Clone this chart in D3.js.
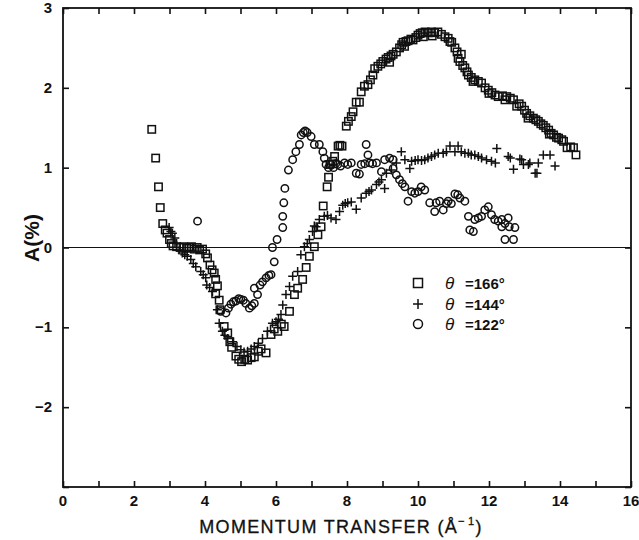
<!DOCTYPE html>
<html lang="en">
  <head>
    <meta charset="UTF-8" />
    <title>Asymmetry vs momentum transfer</title>
    <script src="https://d3js.org/d3.v7.min.js"></script>
    <style>
      body { margin: 0; background: #fff; }
      text { font-family: "Liberation Sans", Arial, sans-serif; fill: #111; }
    </style>
  </head>
  <body>
    <svg id="chart" width="639" height="540"></svg>
    <script>
      // theta = 166 deg (squares)
      const sq166 = [
        [2.50,1.48],[2.61,1.12],[2.69,0.76],[2.74,0.50],[2.81,0.30],[2.88,0.22],[2.93,0.18],[3.00,0.10],
        [3.05,0.05],[3.10,0.02],[3.20,0.01],[3.30,0.00],[3.40,0.01],[3.48,-0.01],[3.55,0.00],[3.62,0.01],
        [3.70,-0.02],[3.78,0.00],[3.85,-0.03],[3.93,-0.02],[4.02,-0.08],[4.07,-0.13],[4.14,-0.22],[4.20,-0.28],
        [4.26,-0.32],[4.30,-0.40],[4.35,-0.48],[4.30,-0.58],[4.40,-0.66],[4.42,-0.78],[4.54,-0.99],[4.64,-1.07],
        [4.70,-1.18],[4.75,-1.25],[4.87,-1.36],[4.95,-1.40],[5.03,-1.43],[5.12,-1.40],[5.20,-1.41],[5.30,-1.38],
        [5.39,-1.37],[5.50,-1.30],[5.58,-1.27],[5.72,-1.32],[5.86,-1.09],[5.95,-1.02],[6.05,-1.05],[6.15,-0.96],
        [6.23,-0.99],[6.38,-0.80],[6.52,-0.59],[6.61,-0.51],[6.75,-0.40],[6.85,-0.25],[6.94,-0.11],[7.08,0.01],
        [7.18,0.16],[7.27,0.26],[7.33,0.52],[7.44,0.76],[7.48,0.88],[7.52,1.04],[7.60,1.08],[7.65,1.14],
        [7.75,1.27],[7.80,1.28],[7.86,1.27],[7.98,1.52],[8.04,1.58],[8.12,1.64],[8.17,1.70],[8.26,1.82],
        [8.35,1.82],[8.40,1.95],[8.49,2.02],[8.59,2.04],[8.66,2.10],[8.73,2.16],[8.78,2.24],[8.87,2.27],
        [8.95,2.30],[9.01,2.33],[9.10,2.36],[9.16,2.38],[9.24,2.40],[9.30,2.42],[9.39,2.45],[9.48,2.50],
        [9.54,2.54],[9.58,2.57],[9.66,2.58],[9.72,2.59],[9.80,2.61],[9.86,2.60],[9.94,2.63],[10.00,2.66],
        [10.06,2.68],[10.12,2.69],[10.20,2.70],[10.29,2.69],[10.38,2.70],[10.47,2.69],[10.56,2.70],[10.66,2.67],
        [10.76,2.64],[10.85,2.62],[10.95,2.57],[11.04,2.50],[11.10,2.45],[11.13,2.37],[11.22,2.42],[11.18,2.33],
        [11.26,2.28],[11.32,2.25],[11.38,2.20],[11.42,2.16],[11.50,2.13],[11.60,2.10],[11.70,2.08],[11.79,2.06],
        [11.89,2.00],[11.98,1.97],[12.08,1.94],[12.17,1.91],[12.26,1.89],[12.38,1.90],[12.50,1.89],[12.60,1.87],
        [12.69,1.85],[12.78,1.77],[12.85,1.80],[12.92,1.77],[13.00,1.72],[13.06,1.68],[13.15,1.65],[13.25,1.62],
        [13.32,1.60],[13.39,1.58],[13.46,1.55],[13.53,1.53],[13.60,1.50],[13.68,1.47],[13.75,1.43],[13.82,1.41],
        [13.90,1.38],[13.96,1.37],[14.05,1.35],[14.10,1.33],[14.20,1.25],[14.30,1.26],[14.38,1.25],[14.45,1.16],
        [9.20,2.32],[9.62,2.52],[10.15,2.64],[10.40,2.65],[10.90,2.58],[11.55,2.08],[12.00,1.93],[12.45,1.85],
        [13.10,1.62],[13.70,1.42]
      ];

      // theta = 144 deg (plus signs)
      const pl144 = [
        [2.99,0.25],[3.04,0.20],[3.08,0.18],[3.15,0.12],[3.20,0.05],[3.27,-0.03],[3.36,-0.07],[3.43,-0.09],
        [3.50,-0.11],[3.60,-0.15],[3.67,-0.20],[3.74,-0.24],[3.88,-0.30],[3.95,-0.34],[4.02,-0.38],[4.05,-0.47],
        [4.13,-0.50],[4.21,-0.55],[4.35,-0.78],[4.40,-0.95],[4.49,-1.05],[4.56,-1.10],[4.64,-1.14],[4.78,-1.18],
        [4.90,-1.24],[5.01,-1.28],[5.10,-1.31],[5.20,-1.30],[5.30,-1.27],[5.39,-1.24],[5.50,-1.20],[5.62,-1.14],
        [5.76,-1.05],[5.90,-0.95],[6.00,-0.93],[6.07,-0.90],[6.14,-0.84],[6.19,-0.72],[6.28,-0.59],[6.38,-0.49],
        [6.47,-0.36],[6.61,-0.30],[6.70,-0.09],[6.80,0.01],[6.88,0.05],[6.94,0.10],[7.03,0.20],[7.08,0.27],
        [7.13,0.26],[7.22,0.35],[7.36,0.39],[7.45,0.40],[7.55,0.37],[7.69,0.35],[7.79,0.45],[7.88,0.53],
        [7.95,0.55],[8.02,0.56],[8.12,0.57],[8.26,0.48],[8.40,0.62],[8.54,0.68],[8.62,0.70],[8.69,0.72],
        [8.83,0.79],[8.90,0.82],[8.97,0.85],[9.06,0.74],[9.11,0.93],[9.25,0.97],[9.39,1.06],[9.53,1.20],
        [9.63,1.10],[9.77,0.99],[9.82,1.08],[9.92,1.09],[10.00,1.10],[10.10,1.09],[10.19,1.10],[10.28,1.12],
        [10.38,1.14],[10.47,1.16],[10.57,1.18],[10.71,1.18],[10.80,1.20],[10.90,1.27],[11.04,1.20],[11.13,1.27],
        [11.22,1.20],[11.32,1.18],[11.42,1.18],[11.50,1.16],[11.60,1.16],[11.70,1.14],[11.79,1.12],[11.93,1.10],
        [12.07,1.08],[12.18,1.06],[12.22,1.24],[12.54,1.14],[12.60,1.12],[12.69,0.98],[12.87,1.11],[12.92,1.10],
        [12.97,1.04],[13.11,1.04],[13.15,1.06],[13.30,0.93],[13.35,0.93],[13.39,1.06],[13.53,1.16],[13.72,1.16],
        [13.86,1.02]
      ];

      // theta = 122 deg (circles)
      const ci122 = [
        [3.79,0.33],[4.44,-0.80],[4.59,-0.82],[4.66,-0.76],[4.73,-0.71],[4.80,-0.68],[4.87,-0.67],[4.95,-0.64],
        [5.01,-0.65],[5.08,-0.66],[5.15,-0.70],[5.25,-0.76],[5.32,-0.73],[5.39,-0.70],[5.48,-0.59],[5.39,-0.51],
        [5.55,-0.47],[5.62,-0.43],[5.72,-0.38],[5.80,-0.35],[5.86,-0.34],[5.95,-0.18],[5.90,0.00],[6.03,0.10],
        [6.19,0.25],[6.19,0.39],[6.22,0.56],[6.25,0.74],[6.35,0.97],[6.47,1.10],[6.56,1.20],[6.66,1.29],
        [6.71,1.41],[6.77,1.44],[6.82,1.46],[6.88,1.44],[6.99,1.39],[7.08,1.29],[7.22,1.29],[7.32,1.20],
        [7.36,1.12],[7.41,1.04],[7.48,1.00],[7.55,1.04],[7.62,1.00],[7.68,1.05],[7.74,1.04],[7.82,1.02],
        [7.93,1.06],[8.02,1.04],[8.12,1.06],[8.26,0.93],[8.35,0.92],[8.40,1.04],[8.50,1.05],[8.54,1.29],
        [8.59,1.16],[8.64,1.06],[8.72,1.05],[8.83,1.06],[8.97,0.95],[9.06,1.10],[9.20,1.12],[9.30,1.10],
        [9.30,0.99],[9.39,0.91],[9.48,0.85],[9.56,0.80],[9.63,0.76],[9.72,0.58],[9.82,0.70],[9.91,0.68],
        [10.00,0.70],[10.09,0.76],[10.19,0.72],[10.33,0.56],[10.47,0.45],[10.51,0.56],[10.61,0.58],[10.71,0.47],
        [10.80,0.55],[10.85,0.58],[10.94,0.55],[11.04,0.67],[11.12,0.66],[11.18,0.62],[11.32,0.58],[11.42,0.39],
        [11.46,0.22],[11.56,0.20],[11.60,0.35],[11.70,0.37],[11.79,0.39],[11.88,0.47],[11.98,0.51],[12.07,0.41],
        [12.16,0.35],[12.26,0.33],[12.36,0.35],[12.36,0.26],[12.45,0.30],[12.54,0.37],[12.57,0.26],[12.73,0.25],
        [12.45,0.10],[12.69,0.10]
      ];

      const xTicks = d3.range(0, 17, 1);
      const xLabels = [0, 2, 4, 6, 8, 10, 12, 14, 16];
      const yTicks = [-3, -2, -1, 0, 1, 2, 3];
      const yLabels = [-2, -1, 0, 1, 2, 3];
      const legendItems = [
        { shape: "square", label: "=166°" },
        { shape: "plus", label: "=144°" },
        { shape: "circle", label: "=122°" }
      ];

      const svg = d3.select("#chart");
      const m = { left: 63, right: 631, top: 8, bottom: 487 };

      const x = d3.scaleLinear().domain([0, 16]).range([m.left, m.right]);
      const y = d3.scaleLinear().domain([-3, 3]).range([m.bottom, m.top]);
      const ink = "#111";
      const tick = 6;

      // frame
      svg.append("rect")
        .attr("x", m.left).attr("y", m.top)
        .attr("width", m.right - m.left).attr("height", m.bottom - m.top)
        .attr("fill", "none").attr("stroke", ink).attr("stroke-width", 1.8);

      // inward ticks on all four sides
      const bottomAxis = d3.axisBottom(x).tickValues(xTicks).tickSize(-tick).tickFormat("");
      const topAxis = d3.axisTop(x).tickValues(xTicks).tickSize(-tick).tickFormat("");
      const leftAxis = d3.axisLeft(y).tickValues(yTicks).tickSize(-tick).tickFormat("");
      const rightAxis = d3.axisRight(y).tickValues(yTicks).tickSize(-tick).tickFormat("");

      [[bottomAxis, `translate(0,${m.bottom})`], [topAxis, `translate(0,${m.top})`],
       [leftAxis, `translate(${m.left},0)`], [rightAxis, `translate(${m.right},0)`]].forEach(([ax, tr]) => {
        const g = svg.append("g").attr("transform", tr).call(ax);
        g.select(".domain").remove();
        g.selectAll("line").attr("stroke", ink).attr("stroke-width", 1.6);
      });

      // tick labels
      svg.append("g").selectAll("text").data(xLabels).join("text")
        .attr("x", (d) => x(d)).attr("y", 506)
        .attr("text-anchor", "middle")
        .style("font-size", "15px").style("font-weight", "bold")
        .text((d) => d);

      svg.append("g").selectAll("text").data(yLabels).join("text")
        .attr("x", 52).attr("y", (d) => y(d) + 5)
        .attr("text-anchor", "end")
        .style("font-size", "15px").style("font-weight", "bold")
        .text((d) => (d < 0 ? "\u2212" + Math.abs(d) : d));

      // zero line
      svg.append("line")
        .attr("x1", m.left).attr("x2", m.right)
        .attr("y1", y(0)).attr("y2", y(0))
        .attr("stroke", ink).attr("stroke-width", 1);

      // axis titles
      const xt = svg.append("text")
        .attr("x", 341).attr("y", 533)
        .attr("text-anchor", "middle")
        .style("font-size", "18px").style("letter-spacing", "1.3px")
        .style("stroke", "#111").style("stroke-width", 0.3)
        .text("MOMENTUM TRANSFER (Å");
      xt.append("tspan").attr("dy", -8).style("font-size", "11px").text("\u2212\u200a1");
      xt.append("tspan").attr("dy", 8).text(")");

      svg.append("text")
        .attr("transform", "translate(39,238) rotate(-90)")
        .attr("text-anchor", "middle")
        .style("font-size", "21px").style("font-weight", "bold")
        .text("A(%)");

      // markers
      const plot = svg.append("g").attr("fill", "none").attr("stroke", ink).attr("stroke-width", 1.5);

      plot.append("g").selectAll("rect").data(sq166).join("rect")
        .attr("x", (d) => x(d[0]) - 3.7).attr("y", (d) => y(d[1]) - 3.7)
        .attr("width", 7.4).attr("height", 7.4);

      plot.append("g").selectAll("path").data(pl144).join("path")
        .attr("d", (d) => `M${x(d[0]) - 4.5},${y(d[1])}h9M${x(d[0])},${y(d[1]) - 4.5}v9`);

      plot.append("g").selectAll("circle").data(ci122).join("circle")
        .attr("cx", (d) => x(d[0])).attr("cy", (d) => y(d[1]))
        .attr("r", 3.7);

      // legend
      const lg = svg.append("g").attr("transform", "translate(418,283)");
      const rows = lg.selectAll("g").data(legendItems).join("g")
        .attr("transform", (d, i) => `translate(0,${[0, 21, 41][i]})`);

      rows.each(function (d) {
        const g = d3.select(this).append("g")
          .attr("fill", "none").attr("stroke", ink).attr("stroke-width", 1.5);
        if (d.shape === "square") g.append("rect").attr("x", -4.5).attr("y", -4.5).attr("width", 9).attr("height", 9);
        if (d.shape === "plus") g.append("path").attr("d", "M-5,0h10M0,-5v10");
        if (d.shape === "circle") g.append("circle").attr("r", 4.5);
      });

      rows.append("text")
        .attr("x", 27).attr("y", 6)
        .style("font-size", "17px").style("font-style", "italic")
        .text("θ");
      rows.append("text")
        .attr("x", 47).attr("y", 6)
        .style("font-size", "15px").style("font-weight", "bold")
        .text((d) => d.label);
    </script>
  </body>
</html>
